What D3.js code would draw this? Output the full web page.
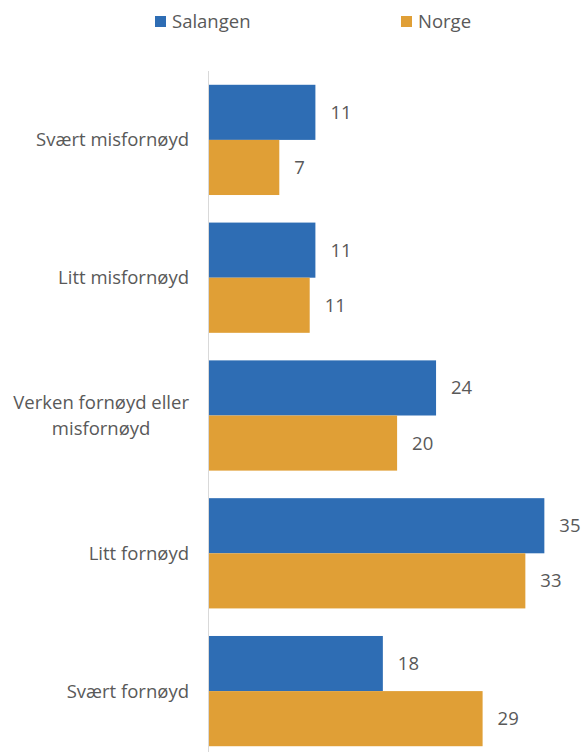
<!DOCTYPE html>
<html>
<head>
<meta charset="utf-8">
<script src="https://cdn.jsdelivr.net/npm/d3@7"></script>
<style>
  body { margin: 0; background: #fff; }
  svg { display: block; font-family: "Open Sans", sans-serif; }
</style>
</head>
<body>
<div id="chart"></div>
<script>
const categories = [
  ["Svært misfornøyd"],
  ["Litt misfornøyd"],
  ["Verken fornøyd eller", "misfornøyd"],
  ["Litt fornøyd"],
  ["Svært fornøyd"],
];
const seriesNames = ["Salangen", "Norge"];
// percentages (labels show them rounded)
const salangen = [11.2, 11.2, 23.9, 35.3, 18.3];
const norge = [7.4, 10.6, 19.8, 33.3, 28.8];
const seriesColors = ["#2E6DB4", "#E09F36"];

const width = 583, height = 752;
const textColor = "#595959";
const fontSize = 18.5;

const svg = d3.select("#chart").append("svg")
  .attr("width", width)
  .attr("height", height);

const keys = categories.map((c) => c.join(" "));
const values = [salangen, norge];

const y = d3.scaleBand()
  .domain(keys)
  .range([71, 760])
  .paddingInner(0.2)
  .paddingOuter(0.1);

const y1 = d3.scaleBand()
  .domain(seriesNames)
  .range([0, y.bandwidth()]);

const x = d3.scaleLinear()
  .domain([0, 36])
  .range([209, 551]);

// vertical axis line
svg.append("line")
  .attr("x1", 208.5).attr("x2", 208.5)
  .attr("y1", 71).attr("y2", 760)
  .attr("stroke", "#d9d9d9")
  .attr("stroke-width", 1);

// bars
const groups = svg.selectAll("g.group")
  .data(keys)
  .join("g")
  .attr("class", "group")
  .attr("transform", (d) => `translate(0,${y(d)})`);

seriesNames.forEach((name, si) => {
  groups.append("rect")
    .attr("x", x(0))
    .attr("y", y1(name))
    .attr("width", (d, i) => x(values[si][i]) - x(0))
    .attr("height", y1.bandwidth())
    .attr("fill", seriesColors[si]);

  groups.append("text")
    .attr("x", (d, i) => x(values[si][i]) + 15)
    .attr("y", y1(name) + y1.bandwidth() / 2)
    .attr("dy", "0.35em")
    .attr("font-size", fontSize)
    .attr("fill", textColor)
    .text((d, i) => Math.round(values[si][i]));
});

// category labels
categories.forEach((lines, i) => {
  const cy = y(keys[i]) + y.bandwidth() / 2;
  const lh = 26;
  const t = svg.append("text")
    .attr("font-size", fontSize)
    .attr("fill", textColor);
  lines.forEach((line, li) => {
    t.append("tspan")
      .attr("y", cy + (li - (lines.length - 1) / 2) * lh)
      .attr("dy", "0.35em")
      .text(line);
  });
  if (lines.length === 1) {
    t.attr("text-anchor", "end").selectAll("tspan").attr("x", 189);
  } else {
    // wrapped labels are centred on their longest line
    let maxW = 0;
    t.selectAll("tspan").each(function () {
      maxW = Math.max(maxW, this.getComputedTextLength());
    });
    t.attr("text-anchor", "middle").selectAll("tspan").attr("x", 189 - maxW / 2);
  }
});

// legend
const legendX = [155, 401];
seriesNames.forEach((name, i) => {
  svg.append("rect")
    .attr("x", legendX[i]).attr("y", 16)
    .attr("width", 11).attr("height", 11)
    .attr("fill", seriesColors[i]);
  svg.append("text")
    .attr("x", legendX[i] + 17).attr("y", 21.5)
    .attr("dy", "0.35em")
    .attr("font-size", fontSize)
    .attr("fill", textColor)
    .text(name);
});
</script>
</body>
</html>
